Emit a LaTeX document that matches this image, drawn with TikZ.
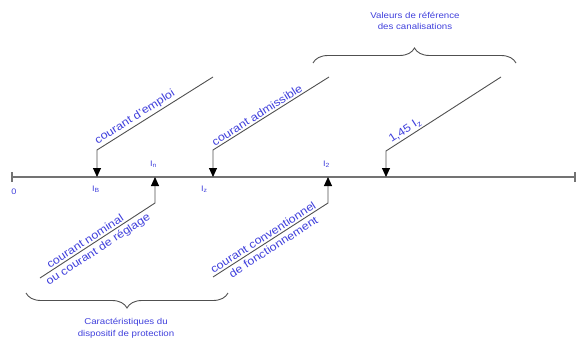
\documentclass[tikz,border=0pt]{standalone}
\usepackage{fontspec}
\setmainfont{Liberation Sans}[FakeStretch=1.14]
\usetikzlibrary{arrows.meta}
\usetikzlibrary{decorations.pathreplacing}
\definecolor{bleu}{RGB}{64,64,220}
\definecolor{trait}{RGB}{80,80,80}

\begin{document}
\begin{tikzpicture}[x=1pt,y=-1pt,
    axe/.style={draw=trait!80,line width=1.4pt},
    lien/.style={draw=trait,line width=0.9pt},
    fleche/.style={lien,-{Triangle[width=8pt,length=9pt,color=black]}},
    diag/.style={text=bleu,font=\fontsize{11}{12}\selectfont,inner sep=2pt},
    dessous/.style={diag,inner sep=3pt},
    repere/.style={text=bleu,font=\fontsize{8}{9}\selectfont,inner sep=0pt},
    legende/.style={text=bleu,font=\fontsize{8.5}{11.5}\selectfont,align=center,inner sep=0pt},
    accolade/.style={draw=trait,line width=0.9pt,decorate,decoration={brace,amplitude=15pt}}]
  \useasboundingbox (0,0) rectangle (576,340);
  % axe des courants
  \coordinate (zero) at (12,177);
  \coordinate (fin)  at (575,177);
  \coordinate (p_B)  at (97,177);
  \coordinate (p_n)  at (155,177);
  \coordinate (p_z)  at (213,177);
  \coordinate (p_2)  at (328,177);
  \coordinate (p_145) at (386,177);
  \draw[axe] (zero) -- (fin);
  \draw[axe] ([yshift=-5pt]zero) -- ([yshift=5pt]zero);
  \draw[axe] ([yshift=-5pt]fin) -- ([yshift=5pt]fin);
  \node[repere]             (l_0) at (14,192)  {0};
  \node[repere,anchor=west] (l_B) at (92,189)  {I\textsubscript{B}};
  \node[repere,anchor=west] (l_n) at (150,164) {I\textsubscript{n}};
  \node[repere,anchor=west] (l_z) at (201,189) {I\textsubscript{z}};
  \node[repere,anchor=west] (l_2) at (323,164) {I\textsubscript{2}};
  % coudes et extremites des renvois
  \coordinate (k_B)   at (97,150);   \coordinate (e_B)   at (213,77);
  \coordinate (k_z)   at (213,150);  \coordinate (e_z)   at (329,77);
  \coordinate (k_145) at (386,151);  \coordinate (e_145) at (501,77);
  \coordinate (k_n)   at (155,203);  \coordinate (e_n)   at (40,278);
  \coordinate (k_2)   at (328,203);  \coordinate (e_2)   at (213,277);
  \draw[fleche] (e_B) -- (k_B) -- (p_B);
  \draw[fleche] (e_z) -- (k_z) -- (p_z);
  \draw[fleche] (e_145) -- (k_145) -- (p_145);
  \draw[fleche] (e_n) -- (k_n) -- (p_n);
  \draw[fleche] (e_2) -- (k_2) -- (p_2);
  \path (k_B) -- (e_B)     node[diag,pos=0.01,sloped,anchor=south west] (t_B) {courant d'emploi};
  \path (k_z) -- (e_z)     node[diag,pos=0.01,sloped,anchor=south west] (t_z) {courant admissible};
  \path (k_145) -- (e_145) node[diag,pos=0.05,sloped,anchor=south west] (t_145) {1,45 I\textsubscript{z}};
  \path (e_n) -- (k_n)     node[diag,pos=0.08,sloped,anchor=south west] (t_n) {courant nominal}
                           node[dessous,pos=0.0,sloped,anchor=north west] (t_r) {ou courant de réglage};
  \path (e_2) -- (k_2)     node[diag,pos=0.0,sloped,anchor=south west] (t_2) {courant conventionnel}
                           node[dessous,pos=0.09,sloped,anchor=north west] (t_f) {de fonctionnement};
  % accolades
  \coordinate (a_1) at (313,63);  \coordinate (a_2) at (516,63);
  \coordinate (b_1) at (228,293); \coordinate (b_2) at (26,293);
  \draw[accolade] (a_1) -- (a_2);
  \draw[accolade] (b_1) -- (b_2);
  \node[legende] (valeurs) at (415,21)  {Valeurs de référence\\des canalisations};
  \node[legende] (dispo)   at (126,328) {Caractéristiques du\\dispositif de protection};
\end{tikzpicture}
\end{document}
